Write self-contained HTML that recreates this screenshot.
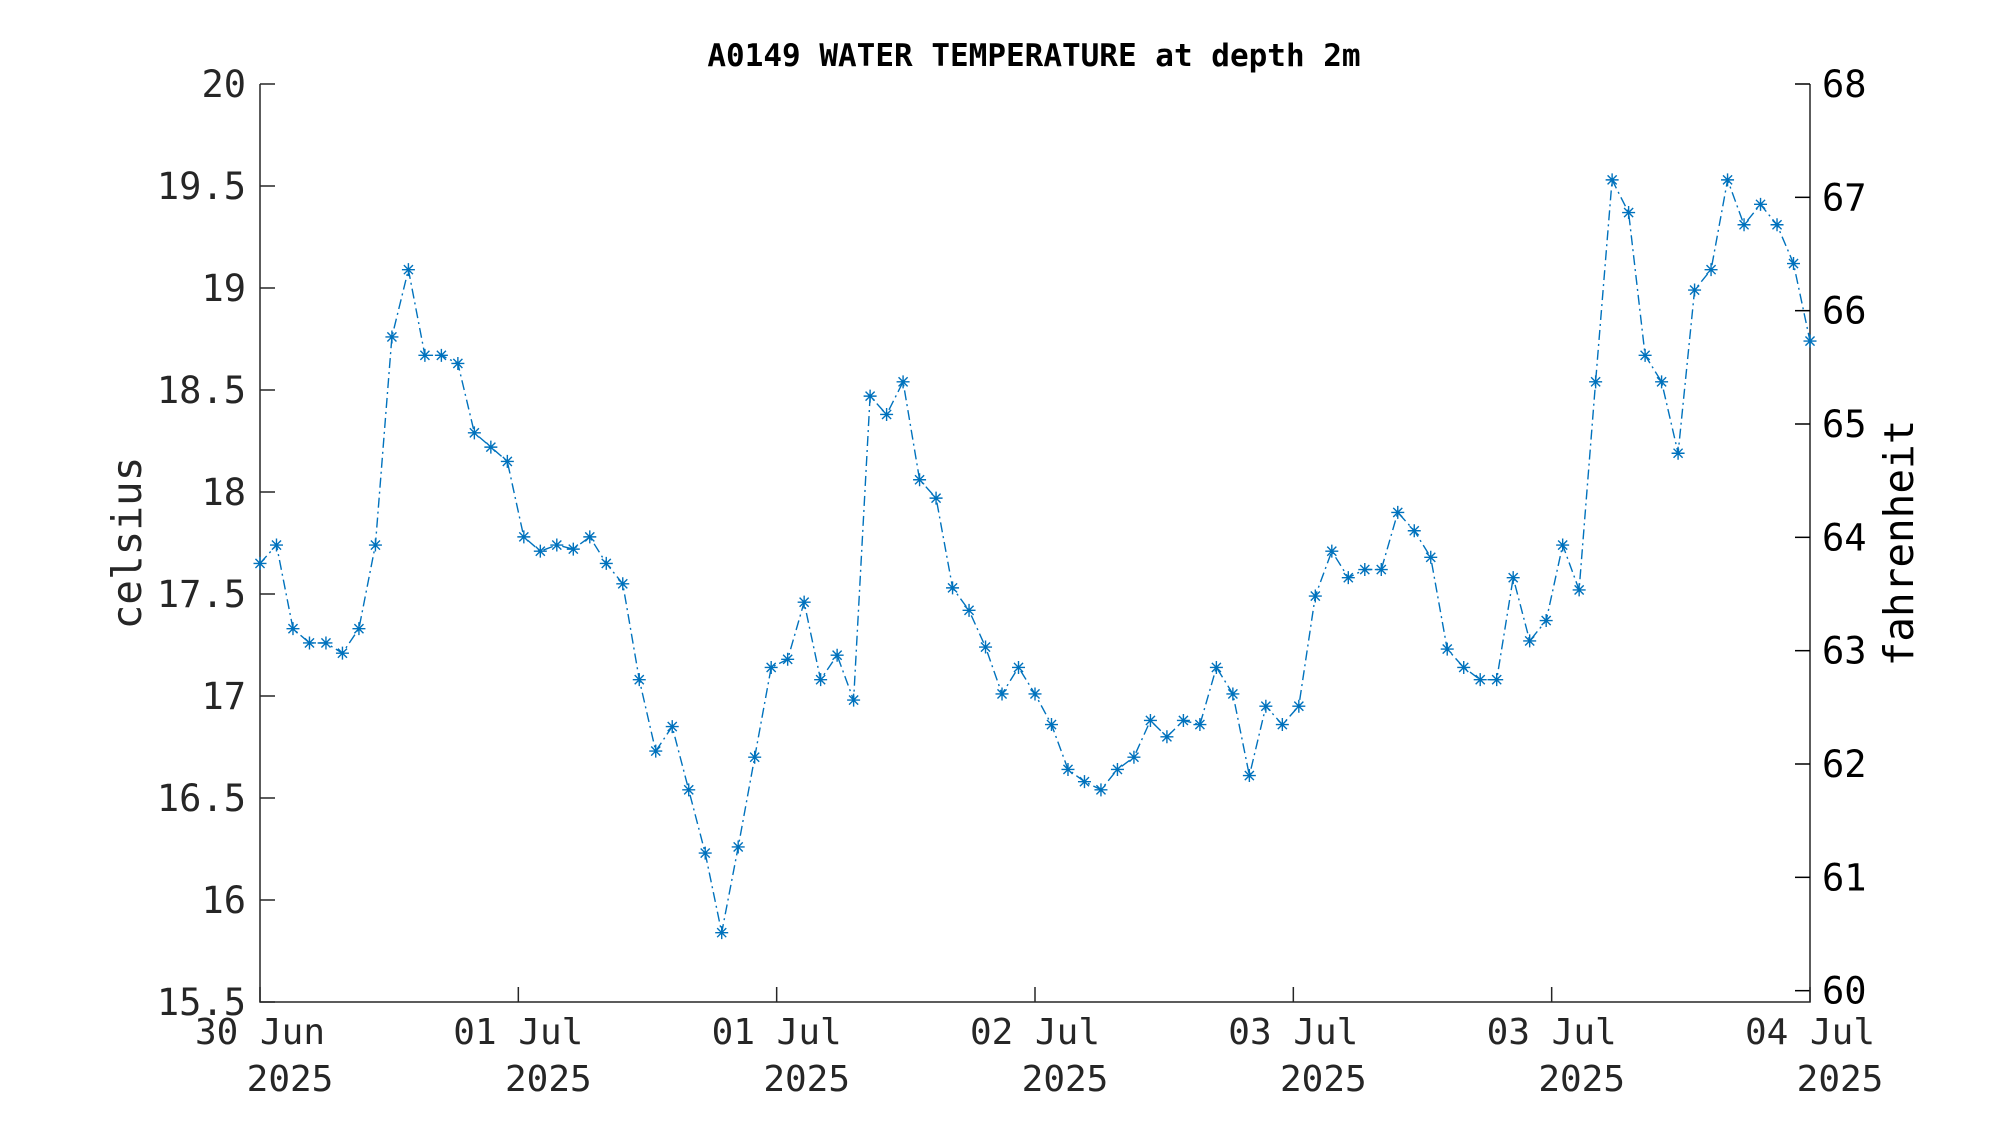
<!DOCTYPE html>
<html><head><meta charset="utf-8"><style>
html,body{margin:0;padding:0;background:#fff;}
svg text{font-family:"DejaVu Sans Mono","Liberation Mono",monospace;fill:#262626;}
</style></head><body>
<svg id="chart" width="2000" height="1125" viewBox="0 0 2000 1125" xmlns="http://www.w3.org/2000/svg">
<rect width="2000" height="1125" fill="#fff"/>
<text x="1034" y="66" text-anchor="middle" font-size="31" font-weight="bold" style="fill:#000">A0149 WATER TEMPERATURE at depth 2m</text>
<g id="axes"></g>
<g id="series"></g>
<text transform="translate(141,543) rotate(-90)" text-anchor="middle" font-size="41">celsius</text>
<text transform="translate(1913,543) rotate(-90)" text-anchor="middle" font-size="41" style="fill:#000">fahrenheit</text>
</svg>
<script>
const celsius = [17.65,17.74,17.33,17.26,17.26,17.21,17.33,17.74,18.76,19.09,18.67,18.67,18.63,18.29,18.22,18.15,17.78,17.71,17.74,17.72,17.78,17.65,17.55,17.08,16.73,16.85,16.54,16.23,15.84,16.26,16.70,17.14,17.18,17.46,17.08,17.20,16.98,18.47,18.38,18.54,18.06,17.97,17.53,17.42,17.24,17.01,17.14,17.01,16.86,16.64,16.58,16.54,16.64,16.70,16.88,16.80,16.88,16.86,17.14,17.01,16.61,16.95,16.86,16.95,17.49,17.71,17.58,17.62,17.62,17.90,17.81,17.68,17.23,17.14,17.08,17.08,17.58,17.27,17.37,17.74,17.52,18.54,19.53,19.37,18.67,18.54,18.19,18.99,19.09,19.53,19.31,19.41,19.31,19.12,18.74];
const yTicks = [15.5,16,16.5,17,17.5,18,18.5,19,19.5,20];
const yTickLabels = ["15.5","16","16.5","17","17.5","18","18.5","19","19.5","20"];
const fTicks = [60,61,62,63,64,65,66,67,68];
const xTickDates = ["30 Jun","01 Jul","01 Jul","02 Jul","03 Jul","03 Jul","04 Jul"];
const xTickYears = ["2025","2025","2025","2025","2025","2025","2025"];

const L=260,R=1810,T=84,B=1002;
const yMin=15.5,yMax=20;
const sy=v=>B-(v-yMin)/(yMax-yMin)*(B-T);
const sf=f=>sy((f-32)/1.8);
const sx=i=>L+i/(celsius.length-1)*(R-L);
const sxt=i=>L+i/(xTickDates.length-1)*(R-L);
const NS="http://www.w3.org/2000/svg";
function mk(tag,attrs,parent){const e=document.createElementNS(NS,tag);for(const k in attrs)e.setAttribute(k,attrs[k]);parent.appendChild(e);return e;}
const axes=document.getElementById('axes');
const ser=document.getElementById('series');

let a=mk('path',{d:`M${L},${T}V${B}H${R}V${T}`,fill:'none',stroke:'#262626','stroke-width':1.5},axes);



yTicks.forEach((v,i)=>{
  const y=sy(v);
  const t=mk('line',{x1:L,x2:L+15,y1:y,y2:y,stroke:'#262626','stroke-width':1.5},axes);
  
  
  const lb=mk('text',{x:L-14,y:y+13,'text-anchor':'end','font-size':37},axes);
  lb.textContent=yTickLabels[i];
  
  
});
fTicks.forEach(f=>{
  const y=sf(f);
  const t=mk('line',{x1:R-15,x2:R,y1:y,y2:y,stroke:'#000','stroke-width':1.5},axes);
  
  
  const lb=mk('text',{x:R+12,y:y+13,'font-size':37,style:'fill:#000'},axes);
  lb.textContent=String(f);
  
  
});
xTickDates.forEach((d,i)=>{
  const x=sxt(i);
  const t=mk('line',{x1:x,x2:x,y1:B,y2:B-15,stroke:'#262626','stroke-width':1.5},axes);
  
  
  const lb=mk('text',{x:x,y:1044,'text-anchor':'middle','font-size':36},axes);
  lb.textContent=d;
  
  
  const ly=mk('text',{x:x+30,y:1091,'text-anchor':'middle','font-size':36},axes);
  ly.textContent=xTickYears[i];
  
  
});

const pts=celsius.map((v,i)=>sx(i).toFixed(1)+','+sy(v).toFixed(1)).join(' ');
const ln=mk('polyline',{points:pts,fill:'none',stroke:'#0072BD','stroke-width':1.4,'stroke-dasharray':'10,4,2,4'},ser);


celsius.forEach((v,i)=>{
  const x=sx(i),y=sy(v),r=6.5,d=r*0.7;
  const m=mk('path',{d:`M${x-r},${y}H${x+r}M${x},${y-r}V${y+r}M${x-d},${y-d}L${x+d},${y+d}M${x-d},${y+d}L${x+d},${y-d}`,stroke:'#0072BD','stroke-width':1.4,fill:'none'},ser);
  
  
});
</script>
</body></html>
